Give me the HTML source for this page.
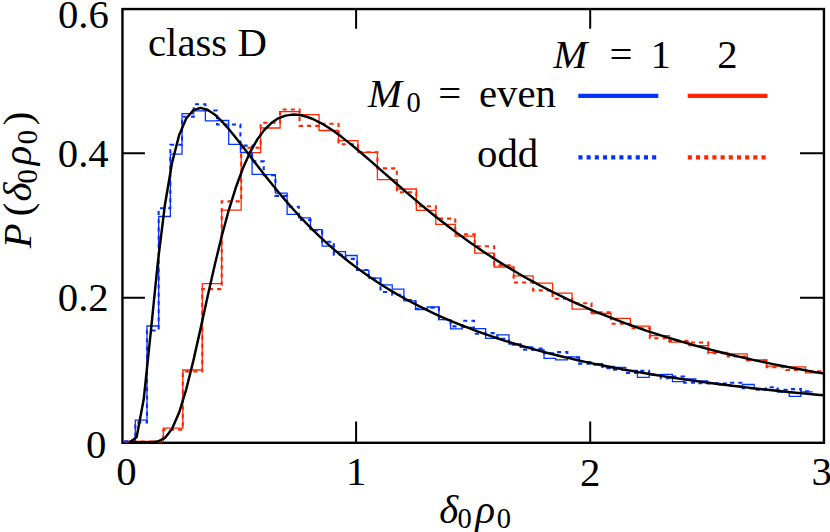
<!DOCTYPE html>
<html lang="en"><head><meta charset="utf-8"><title>class D: P(δ0ρ0) versus δ0ρ0</title>
<style>
html,body{margin:0;padding:0;background:#fff;}
body{width:830px;height:532px;overflow:hidden;font-family:"Liberation Serif",serif;}
svg{display:block;position:absolute;left:0;top:0;}
svg text{font-family:"Liberation Serif",serif;fill:#000;}
</style></head><body>
<svg width="830" height="532" viewBox="0 0 830 532" role="img" aria-label="Class D: probability distribution P of delta0 rho0 for M = 1 (blue) and M = 2 (red), M0 even (solid) and odd (dotted) histograms with analytic curves (black)">
<rect width="830" height="532" fill="#fff"/>
<clipPath id="pc"><rect x="122.45" y="7.05" width="701.80" height="436.95"/></clipPath>
<!-- frame and tick marks -->
<g id="axes">
<rect x="122.45" y="9.05" width="701.50" height="433.75" fill="none" stroke="#000" stroke-width="2.4"/>
<path d="M356.10 442.80 V421.40 M356.10 9.05 V28.80 M590.20 442.80 V421.40 M590.20 9.05 V28.80 M122.45 153.15 H144.90 M823.95 153.15 H800.00 M122.45 297.70 H144.90 M823.95 297.70 H800.00" fill="none" stroke="#000" stroke-width="2.0"/>
</g>
<!-- histograms: red (M=2) even/odd, then blue (M=1) even/odd -->
<g id="hist" clip-path="url(#pc)">
<path d="M124.41 441.50 L124.41 441.50 L143.87 441.50 L143.87 441.50 L163.34 441.50 L163.34 428.20 L182.80 428.20 L182.80 370.00 L202.26 370.00 L202.26 283.70 L221.72 283.70 L221.72 210.10 L241.18 210.10 L241.18 152.70 L260.64 152.70 L260.64 128.00 L280.11 128.00 L280.11 111.70 L299.57 111.70 L299.57 114.70 L319.03 114.70 L319.03 130.50 L338.49 130.50 L338.49 140.70 L357.95 140.70 L357.95 152.40 L377.42 152.40 L377.42 179.70 L396.88 179.70 L396.88 189.00 L416.34 189.00 L416.34 210.40 L435.80 210.40 L435.80 224.30 L455.26 224.30 L455.26 236.10 L474.72 236.10 L474.72 253.20 L494.19 253.20 L494.19 267.00 L513.65 267.00 L513.65 275.90 L533.11 275.90 L533.11 283.10 L552.57 283.10 L552.57 293.10 L572.03 293.10 L572.03 309.20 L591.49 309.20 L591.49 313.50 L610.96 313.50 L610.96 318.30 L630.42 318.30 L630.42 326.10 L649.88 326.10 L649.88 335.60 L669.34 335.60 L669.34 342.10 L688.80 342.10 L688.80 345.70 L708.26 345.70 L708.26 352.30 L727.73 352.30 L727.73 353.80 L747.19 353.80 L747.19 359.80 L766.65 359.80 L766.65 366.10 L786.11 366.10 L786.11 366.80 L805.57 366.80 L805.57 372.80 L825.04 372.80" fill="none" stroke="#ff2600" stroke-width="1.3" stroke-linejoin="miter"/>
<path d="M124.41 441.50 L124.41 441.50 L143.87 441.50 L143.87 441.50 L163.34 441.50 L163.34 429.80 L182.80 429.80 L182.80 371.50 L202.26 371.50 L202.26 289.10 L221.72 289.10 L221.72 201.40 L241.18 201.40 L241.18 147.80 L260.64 147.80 L260.64 122.80 L280.11 122.80 L280.11 109.50 L299.57 109.50 L299.57 125.90 L319.03 125.90 L319.03 123.80 L338.49 123.80 L338.49 144.30 L357.95 144.30 L357.95 152.20 L377.42 152.20 L377.42 168.40 L396.88 168.40 L396.88 192.30 L416.34 192.30 L416.34 206.20 L435.80 206.20 L435.80 218.60 L455.26 218.60 L455.26 234.30 L474.72 234.30 L474.72 246.20 L494.19 246.20 L494.19 265.30 L513.65 265.30 L513.65 282.50 L533.11 282.50 L533.11 290.40 L552.57 290.40 L552.57 298.80 L572.03 298.80 L572.03 303.20 L591.49 303.20 L591.49 312.30 L610.96 312.30 L610.96 323.70 L630.42 323.70 L630.42 328.30 L649.88 328.30 L649.88 338.20 L669.34 338.20 L669.34 340.90 L688.80 340.90 L688.80 342.50 L708.26 342.50 L708.26 353.30 L727.73 353.30 L727.73 356.50 L747.19 356.50 L747.19 360.50 L766.65 360.50 L766.65 367.20 L786.11 367.20 L786.11 370.00 L805.57 370.00 L805.57 371.40 L825.04 371.40" fill="none" stroke="#ff2600" stroke-width="2.1" stroke-dasharray="4.1 4.07" stroke-linejoin="miter"/>
<path d="M123.63 441.50 L123.63 441.50 L135.31 441.50 L135.31 420.20 L146.99 420.20 L146.99 326.00 L158.66 326.00 L158.66 216.50 L170.34 216.50 L170.34 154.20 L182.02 154.20 L182.02 113.70 L193.70 113.70 L193.70 110.90 L205.37 110.90 L205.37 120.90 L217.05 120.90 L217.05 120.50 L228.73 120.50 L228.73 144.30 L240.40 144.30 L240.40 152.40 L252.08 152.40 L252.08 174.30 L263.76 174.30 L263.76 174.70 L275.44 174.70 L275.44 193.20 L287.11 193.20 L287.11 214.30 L298.79 214.30 L298.79 217.80 L310.47 217.80 L310.47 229.60 L322.14 229.60 L322.14 246.20 L333.82 246.20 L333.82 251.70 L345.50 251.70 L345.50 255.50 L357.17 255.50 L357.17 270.40 L368.85 270.40 L368.85 278.20 L380.53 278.20 L380.53 284.80 L392.21 284.80 L392.21 289.10 L403.88 289.10 L403.88 300.80 L415.56 300.80 L415.56 309.50 L427.24 309.50 L427.24 307.00 L438.91 307.00 L438.91 319.60 L450.59 319.60 L450.59 328.90 L462.27 328.90 L462.27 327.30 L473.95 327.30 L473.95 328.70 L485.62 328.70 L485.62 338.30 L497.30 338.30 L497.30 334.90 L508.98 334.90 L508.98 344.00 L520.65 344.00 L520.65 347.00 L532.33 347.00 L532.33 350.00 L544.01 350.00 L544.01 358.30 L555.68 358.30 L555.68 359.90 L567.36 359.90 L567.36 356.90 L579.04 356.90 L579.04 361.63 L590.72 361.63 L590.72 363.60 L602.39 363.60 L602.39 366.50 L614.07 366.50 L614.07 367.30 L625.75 367.30 L625.75 370.50 L637.42 370.50 L637.42 377.30 L649.10 377.30 L649.10 374.83 L660.78 374.83 L660.78 374.30 L672.46 374.30 L672.46 381.70 L684.13 381.70 L684.13 379.00 L695.81 379.00 L695.81 380.90 L707.49 380.90 L707.49 383.33 L719.16 383.33 L719.16 384.82 L730.84 384.82 L730.84 386.25 L742.52 386.25 L742.52 384.50 L754.19 384.50 L754.19 388.93 L765.87 388.93 L765.87 390.20 L777.55 390.20 L777.55 392.00 L789.23 392.00 L789.23 396.30 L800.90 396.30 L800.90 391.90 L812.58 391.90" fill="none" stroke="#0433ff" stroke-width="1.3" stroke-linejoin="miter"/>
<path d="M123.63 441.50 L123.63 441.50 L135.31 441.50 L135.31 422.50 L146.99 422.50 L146.99 330.50 L158.66 330.50 L158.66 208.30 L170.34 208.30 L170.34 144.80 L182.02 144.80 L182.02 116.70 L193.70 116.70 L193.70 104.30 L205.37 104.30 L205.37 110.50 L217.05 110.50 L217.05 124.50 L228.73 124.50 L228.73 124.50 L240.40 124.50 L240.40 145.60 L252.08 145.60 L252.08 161.40 L263.76 161.40 L263.76 175.20 L275.44 175.20 L275.44 195.90 L287.11 195.90 L287.11 206.70 L298.79 206.70 L298.79 219.90 L310.47 219.90 L310.47 230.20 L322.14 230.20 L322.14 241.70 L333.82 241.70 L333.82 254.70 L345.50 254.70 L345.50 258.90 L357.17 258.90 L357.17 270.00 L368.85 270.00 L368.85 278.50 L380.53 278.50 L380.53 292.00 L392.21 292.00 L392.21 294.70 L403.88 294.70 L403.88 300.00 L415.56 300.00 L415.56 308.80 L427.24 308.80 L427.24 307.60 L438.91 307.60 L438.91 319.20 L450.59 319.20 L450.59 326.40 L462.27 326.40 L462.27 320.80 L473.95 320.80 L473.95 333.70 L485.62 333.70 L485.62 333.10 L497.30 333.10 L497.30 338.80 L508.98 338.80 L508.98 344.60 L520.65 344.60 L520.65 349.60 L532.33 349.60 L532.33 348.60 L544.01 348.60 L544.01 353.30 L555.68 353.30 L555.68 352.10 L567.36 352.10 L567.36 357.50 L579.04 357.50 L579.04 363.60 L590.72 363.60 L590.72 364.80 L602.39 364.80 L602.39 368.10 L614.07 368.10 L614.07 369.80 L625.75 369.80 L625.75 373.00 L637.42 373.00 L637.42 370.90 L649.10 370.90 L649.10 374.83 L660.78 374.83 L660.78 378.10 L672.46 378.10 L672.46 376.60 L684.13 376.60 L684.13 382.60 L695.81 382.60 L695.81 383.30 L707.49 383.30 L707.49 383.33 L719.16 383.33 L719.16 383.50 L730.84 383.50 L730.84 382.80 L742.52 382.80 L742.52 388.30 L754.19 388.30 L754.19 389.80 L765.87 389.80 L765.87 387.30 L777.55 387.30 L777.55 389.80 L789.23 389.80 L789.23 389.10 L800.90 389.10 L800.90 391.40 L812.58 391.40" fill="none" stroke="#0433ff" stroke-width="2.1" stroke-dasharray="4.1 4.07" stroke-linejoin="miter"/>
</g>
<!-- analytic curves, 100-sample polylines -->
<g id="curves" clip-path="url(#pc)">
<path d="M129.54 442.30 L136.62 437.25 L143.71 399.30 L150.79 331.84 L157.88 261.94 L164.97 204.49 L172.05 162.77 L179.14 135.11 L186.22 118.56 L193.31 110.27 L200.39 107.92 L207.48 109.76 L214.57 114.48 L221.65 121.13 L228.74 129.04 L235.82 137.70 L242.91 146.79 L250.00 156.04 L257.08 165.29 L264.17 174.43 L271.25 183.35 L278.34 192.03 L285.42 200.41 L292.51 208.48 L299.60 216.24 L306.68 223.68 L313.77 230.79 L320.85 237.60 L327.94 244.11 L335.03 250.33 L342.11 256.28 L349.20 261.95 L356.28 267.38 L363.37 272.56 L370.46 277.51 L377.54 282.25 L384.63 286.78 L391.71 291.11 L398.80 295.26 L405.88 299.24 L412.97 303.04 L420.06 306.69 L427.14 310.20 L434.23 313.56 L441.31 316.78 L448.40 319.88 L455.49 322.86 L462.57 325.72 L469.66 328.48 L476.74 331.13 L483.83 333.68 L490.91 336.14 L498.00 338.51 L505.09 340.80 L512.17 343.00 L519.26 345.13 L526.34 347.19 L533.43 349.17 L540.52 351.09 L547.60 352.95 L554.69 354.74 L561.77 356.48 L568.86 358.16 L575.94 359.79 L583.03 361.36 L590.12 362.89 L597.20 364.37 L604.29 365.81 L611.37 367.20 L618.46 368.55 L625.55 369.86 L632.63 371.14 L639.72 372.38 L646.80 373.58 L653.89 374.75 L660.98 375.89 L668.06 376.99 L675.15 378.07 L682.23 379.11 L689.32 380.13 L696.40 381.12 L703.49 382.09 L710.58 383.03 L717.66 383.95 L724.75 384.84 L731.83 385.72 L738.92 386.57 L746.01 387.39 L753.09 388.20 L760.18 388.99 L767.26 389.76 L774.35 390.52 L781.43 391.25 L788.52 391.97 L795.61 392.67 L802.69 393.35 L809.78 394.02 L816.86 394.68 L823.95 395.32" fill="none" stroke="#000" stroke-width="2.45" stroke-linejoin="round" stroke-linecap="butt"/>
<path d="M129.54 442.30 L136.62 442.30 L143.71 442.30 L150.79 442.24 L157.88 441.47 L164.97 437.91 L172.05 428.83 L179.14 412.56 L186.22 389.36 L193.31 360.89 L200.39 329.39 L207.48 297.05 L214.57 265.66 L221.65 236.48 L228.74 210.30 L235.82 187.52 L242.91 168.26 L250.00 152.42 L257.08 139.79 L264.17 130.11 L271.25 123.06 L278.34 118.32 L285.42 115.59 L292.51 114.59 L299.60 115.05 L306.68 116.75 L313.77 119.47 L320.85 123.04 L327.94 127.29 L335.03 132.10 L342.11 137.34 L349.20 142.91 L356.28 148.74 L363.37 154.75 L370.46 160.88 L377.54 167.08 L384.63 173.31 L391.71 179.53 L398.80 185.72 L405.88 191.84 L412.97 197.89 L420.06 203.85 L427.14 209.69 L434.23 215.43 L441.31 221.04 L448.40 226.52 L455.49 231.87 L462.57 237.08 L469.66 242.16 L476.74 247.10 L483.83 251.91 L490.91 256.59 L498.00 261.13 L505.09 265.54 L512.17 269.82 L519.26 273.98 L526.34 278.01 L533.43 281.93 L540.52 285.72 L547.60 289.41 L554.69 292.98 L561.77 296.45 L568.86 299.81 L575.94 303.07 L583.03 306.23 L590.12 309.30 L597.20 312.28 L604.29 315.17 L611.37 317.97 L618.46 320.69 L625.55 323.33 L632.63 325.90 L639.72 328.38 L646.80 330.80 L653.89 333.14 L660.98 335.42 L668.06 337.63 L675.15 339.78 L682.23 341.87 L689.32 343.90 L696.40 345.88 L703.49 347.79 L710.58 349.66 L717.66 351.47 L724.75 353.24 L731.83 354.95 L738.92 356.62 L746.01 358.25 L753.09 359.83 L760.18 361.37 L767.26 362.87 L774.35 364.33 L781.43 365.75 L788.52 367.14 L795.61 368.49 L802.69 369.80 L809.78 371.09 L816.86 372.34 L823.95 373.56" fill="none" stroke="#000" stroke-width="2.45" stroke-linejoin="round" stroke-linecap="butt"/>
</g>
<!-- legend sample lines -->
<g id="legend">
<path d="M578.3 95.9H658.3" stroke="#0433ff" stroke-width="4.2" fill="none"/>
<path d="M687.7 95.9H767.4" stroke="#ff2600" stroke-width="4.2" fill="none"/>
<path d="M578.4 157.4H658.3" stroke="#0433ff" stroke-width="4.2" stroke-dasharray="4.1 4.09" fill="none"/>
<path d="M687.8 157.4H767.4" stroke="#ff2600" stroke-width="4.2" stroke-dasharray="4.1 4.09" fill="none"/>
</g>
<!-- labels as real text -->
<g id="labeltext">
<text x="57.9" y="27.5" font-size="40.75">0.6</text>
<text x="57.8" y="166.5" font-size="40.75">0.4</text>
<text x="57.8" y="310.6" font-size="40.75">0.2</text>
<text x="86.0" y="458.2" font-size="40.75">0</text>
<text x="116.2" y="484.7" font-size="40.75">0</text>
<text x="345.9" y="484.8" font-size="40.75">1</text>
<text x="580.1" y="485.5" font-size="40.75">2</text>
<text x="811.4" y="484.8" font-size="40.75">3</text>
<text x="148.0" y="56.1" font-size="40.75">class D</text>
<text y="68.4" font-size="40.75"><tspan x="553.3" font-style="italic">M</tspan><tspan x="609.4">=</tspan><tspan x="650.4">1</tspan></text>
<text x="717.2" y="68.1" font-size="40.75">2</text>
<text y="106.8" font-size="40.75"><tspan x="367.9" font-style="italic">M</tspan><tspan x="406.4" dy="5.6" font-size="28.5">0</tspan><tspan x="438.3" dy="-5.6">=</tspan><tspan x="479.0">even</tspan></text>
<text x="477.0" y="167.4" font-size="40.75">odd</text>
<text y="522.7" font-size="40.75"><tspan x="439.3" font-style="italic">δ</tspan><tspan x="457.4" dy="5.6" font-size="28.5">0</tspan><tspan x="475.6" dy="-5.6" font-style="italic">ρ</tspan><tspan x="496.7" dy="5.6" font-size="28.5">0</tspan></text>
<text y="0" font-size="40.75" transform="translate(31.2 249.3) rotate(-90)"><tspan x="1" font-style="italic">P</tspan><tspan x="33">(</tspan><tspan x="47.7" font-style="italic">δ</tspan><tspan x="65.8" dy="5.6" font-size="28.5">0</tspan><tspan x="84.1" dy="-5.6" font-style="italic">ρ</tspan><tspan x="105.1" dy="5.6" font-size="28.5">0</tspan><tspan x="124" dy="-5.6">)</tspan></text>
</g>
</svg>
</body></html>
